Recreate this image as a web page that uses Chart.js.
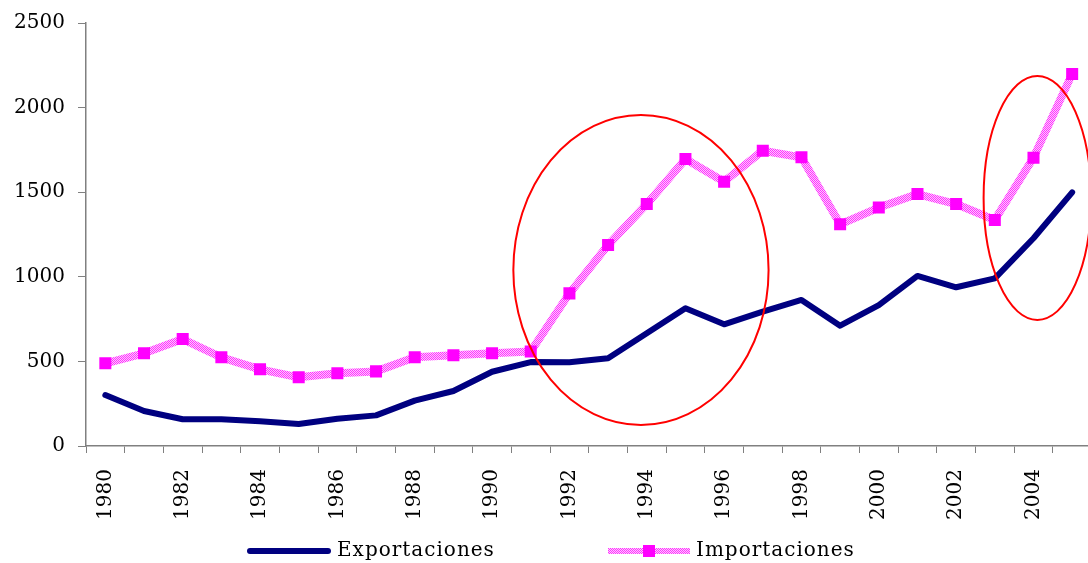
<!DOCTYPE html>
<html>
<head>
<meta charset="utf-8">
<script src="https://cdn.jsdelivr.net/npm/chart.js@4/dist/chart.umd.min.js"></script>
<style>
  html, body { margin: 0; padding: 0; background: #fff; overflow: hidden; }
  #wrap { width: 1100px; height: 563px; position: relative; }
</style>
</head>
<body>
<div id="wrap"><canvas id="tradeChart"></canvas></div>
<script>
// Data
const years = ['1980','1981','1982','1983','1984','1985','1986','1987','1988','1989','1990','1991','1992',
               '1993','1994','1995','1996','1997','1998','1999','2000','2001','2002','2003','2004','2005'];
const exportaciones = [301, 207, 158, 158, 146, 130, 161, 181, 268, 325, 439, 496, 495,
                       518, 666, 814, 719, 794, 863, 711, 833, 1005, 938, 991, 1228, 1499];
const importaciones = [489, 548, 632, 524, 453, 406, 430, 441, 524, 536, 548, 558, 902,
                       1188, 1430, 1696, 1562, 1745, 1706, 1310, 1409, 1489, 1430, 1336, 1704, 2199];
const yTicks = [0, 500, 1000, 1500, 2000, 2500];

// Red ellipses: centre (year, value) and half sizes (years, value units)
const ellipseYears = [1993.85, 2004.1];
const ellipseValues = [1040, 1466];
const ellipseHalfYears = [3.3, 1.39];
const ellipseHalfValues = [916, 721];

// hatched pink stroke like the original line
function makeHatch() {
    const c = document.createElement('canvas');
    c.width = 2; c.height = 2;
    const g = c.getContext('2d');
    g.fillStyle = '#ffc8ff';
    g.fillRect(0, 0, 2, 2);
    g.fillStyle = '#ff33ff';
    g.fillRect(0, 0, 1, 1);
    g.fillRect(1, 1, 1, 1);
    return g.createPattern(c, 'repeat');
}

const ctx = document.getElementById('tradeChart');
const hatch = makeHatch();

const ellipsePlugin = {
    id: 'ellipses',
    afterDatasetsDraw(chart) {
        const { ctx, scales: { x, y } } = chart;
        ctx.save();
        ctx.strokeStyle = '#ff0000';
        ctx.lineWidth = 2;
        ellipseYears.forEach((yr, i) => {
            const idx = yr - 1980;
            const cx = x.getPixelForValue(idx);
            const cy = y.getPixelForValue(ellipseValues[i]);
            const rx = Math.abs(x.getPixelForValue(idx + ellipseHalfYears[i]) - cx);
            const ry = Math.abs(y.getPixelForValue(ellipseValues[i] + ellipseHalfValues[i]) - cy);
            ctx.beginPath();
            ctx.ellipse(cx, cy, rx, ry, 0, 0, Math.PI * 2);
            ctx.stroke();
        });
        ctx.restore();
    }
};

// simple legend drawn under the axis
const legendPlugin = {
    id: 'bottomLegend',
    afterDraw(chart) {
        const c = chart.ctx;
        const yMid = 551;
        c.save();
        c.font = '20px "DejaVu Serif"';
        c.letterSpacing = '1px';
        c.fillStyle = '#000';
        c.textBaseline = 'middle';

        // Exportaciones
        c.strokeStyle = '#000080';
        c.lineWidth = 6;
        c.lineCap = 'round';
        c.beginPath();
        c.moveTo(250, yMid);
        c.lineTo(328, yMid);
        c.stroke();
        c.fillText(chart.data.datasets[0].label, 337, yMid);

        // Importaciones
        c.strokeStyle = hatch;
        c.lineWidth = 6;
        c.lineCap = 'butt';
        c.beginPath();
        c.moveTo(608, yMid);
        c.lineTo(690, yMid);
        c.stroke();
        c.fillStyle = '#ff00ff';
        c.fillRect(643, yMid - 6, 12, 12);
        c.fillStyle = '#000';
        c.fillText(chart.data.datasets[1].label, 696, yMid);
        c.restore();
    }
};

new Chart(ctx, {
    type: 'line',
    data: {
        labels: years,
        datasets: [
            {
                label: 'Exportaciones',
                data: exportaciones,
                borderColor: '#000080',
                borderWidth: 6,
                borderCapStyle: 'round',
                borderJoinStyle: 'round',
                pointRadius: 0,
                tension: 0,
                order: 1
            },
            {
                label: 'Importaciones',
                data: importaciones,
                borderColor: hatch,
                borderWidth: 8,
                borderJoinStyle: 'round',
                pointStyle: 'rect',
                pointRadius: 8.5,
                pointBackgroundColor: '#ff00ff',
                pointBorderColor: '#ff00ff',
                pointBorderWidth: 0,
                tension: 0,
                order: 0
            }
        ]
    },
    options: {
        responsive: true,
        maintainAspectRatio: false,
        animation: false,
        layout: { padding: { top: 23, right: 0, bottom: 0, left: 0 } },
        plugins: {
            legend: { display: false },
            tooltip: { enabled: false }
        },
        scales: {
            x: {
                offset: true,
                grid: { display: true, offset: true, drawOnChartArea: false, drawTicks: true, tickLength: 7, color: '#808080' },
                border: { display: true, color: '#808080', width: 1.5 },
                ticks: {
                    autoSkip: false,
                    minRotation: 90,
                    maxRotation: 90,
                    padding: 16,
                    color: '#000',
                    font: { family: '"DejaVu Serif"', size: 20 },
                    callback: (val, i) => (i % 2 === 0 ? years[i] : '')
                },
                afterFit: scale => {
                    scale.height = 117;
                    scale.paddingRight = 0;
                    scale.paddingLeft = 0;
                }
            },
            y: {
                min: 0,
                max: 2500,
                afterBuildTicks: scale => { scale.ticks = yTicks.map(v => ({ value: v })); },
                grid: { display: true, drawOnChartArea: false, drawTicks: true, tickLength: 8, color: '#808080' },
                border: { display: true, color: '#808080', width: 1.5 },
                ticks: {
                    color: '#000',
                    padding: 13,
                    font: { family: '"DejaVu Serif"', size: 20 },
                    callback: v => String(v)
                },
                afterFit: scale => {
                    scale.width = 86;
                    scale.paddingTop = 0;
                    scale.paddingBottom = 0;
                }
            }
        }
    },
    plugins: [ellipsePlugin, legendPlugin]
});
</script>
</body>
</html>
